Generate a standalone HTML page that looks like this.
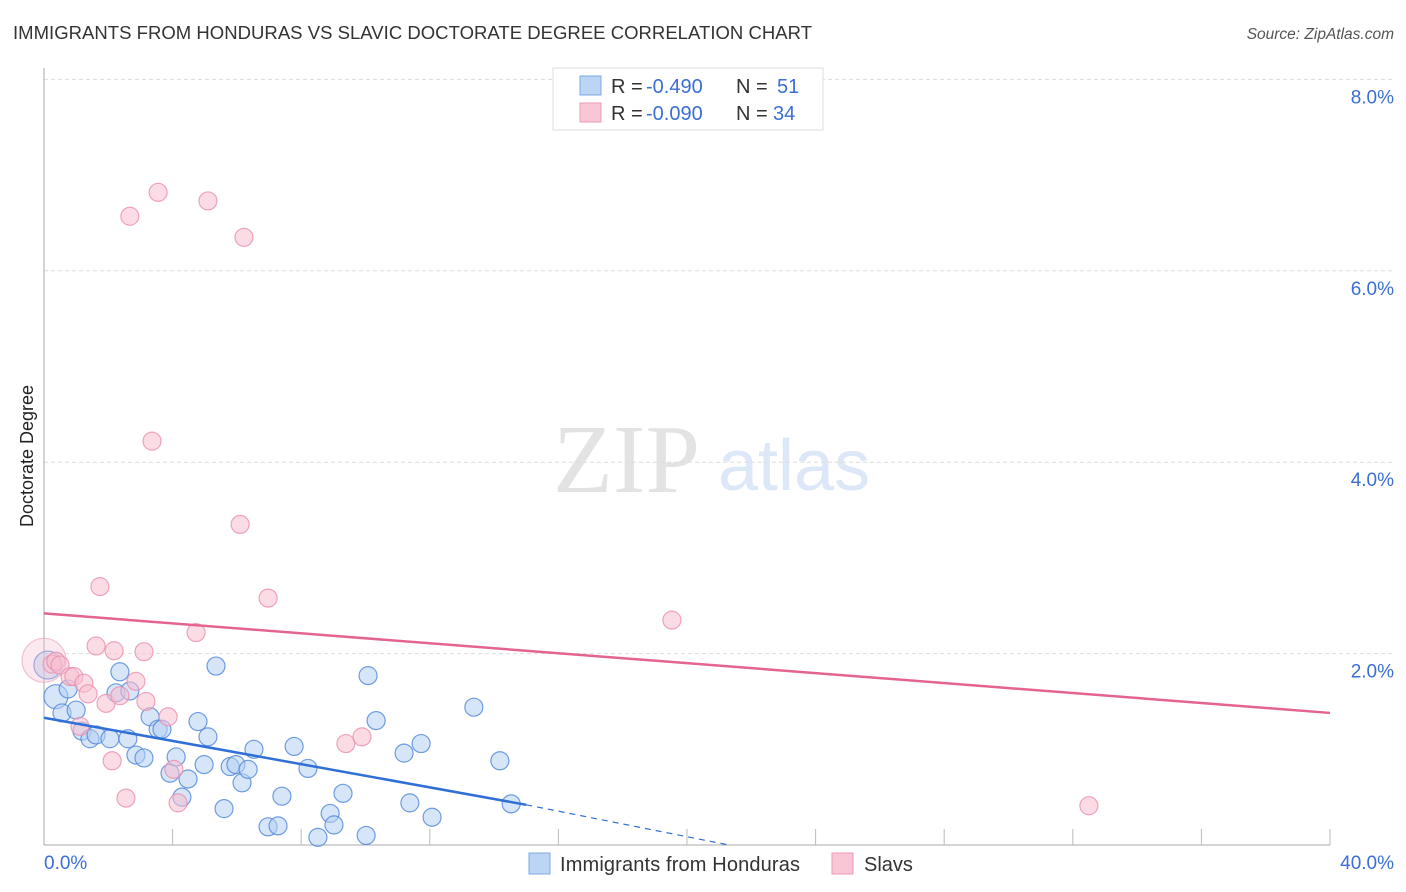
<!DOCTYPE html>
<html><head><meta charset="utf-8"><style>
body{margin:0;background:#fff;width:1406px;height:892px;overflow:hidden;font-family:"Liberation Sans",sans-serif}
svg{position:absolute;left:0;top:0}
</style></head><body>
<svg width="1406" height="892">
<text x="13" y="39" font-size="18.5" fill="#333" textLength="799">IMMIGRANTS FROM HONDURAS VS SLAVIC DOCTORATE DEGREE CORRELATION CHART</text>
<text x="1394" y="39" font-size="15.5" fill="#555" font-style="italic" text-anchor="end">Source: ZipAtlas.com</text>
<text x="553" y="492" font-size="98" fill="#e3e3e3" font-family="Liberation Serif,serif">ZIP</text>
<text x="718" y="490" font-size="72" fill="#dce8f7">atlas</text>
<g id="grid"></g>
<g id="axes"></g>
<g id="pts"></g>
<g id="trend"></g>
<text transform="translate(33,456) rotate(-90)" font-size="18" fill="#222" text-anchor="middle">Doctorate Degree</text>
<text x="44" y="869" font-size="19" fill="#3b6fd4">0.0%</text>
<text x="1394" y="869" font-size="19" fill="#3b6fd4" text-anchor="end">40.0%</text>
<g>
<rect x="553" y="68" width="270" height="62" fill="#fff" stroke="#ddd"/>
<rect x="580" y="76" width="21" height="19" fill="#bcd5f5" stroke="#7ea9e6"/>
<text x="611" y="93" font-size="20" fill="#333">R =</text>
<text x="646" y="93" font-size="20" fill="#3b6fd4">-0.490</text>
<text x="736" y="93" font-size="20" fill="#333">N =</text>
<text x="777" y="93" font-size="20" fill="#3b6fd4">51</text>
<rect x="580" y="103" width="21" height="19" fill="#f9c6d6" stroke="#ee9ab5"/>
<text x="611" y="120" font-size="20" fill="#333">R =</text>
<text x="646" y="120" font-size="20" fill="#3b6fd4">-0.090</text>
<text x="736" y="120" font-size="20" fill="#333">N =</text>
<text x="773" y="120" font-size="20" fill="#3b6fd4">34</text>
</g>
<g>
<rect x="529" y="853" width="21" height="21" fill="#bcd5f5" stroke="#7ea9e6"/>
<text x="560" y="871" font-size="20" fill="#333" textLength="240">Immigrants from Honduras</text>
<rect x="832" y="853" width="21" height="21" fill="#f9c6d6" stroke="#ee9ab5"/>
<text x="864" y="871" font-size="20" fill="#333">Slavs</text>
</g>
</svg>
<script>
const yTicks=[2,4,6,8];
const xTicks=[4,8,12,16,20,24,28,32,36,40];
const blueX=[0.37,0.12,0.75,0.56,1.0,1.18,1.43,1.62,2.05,2.36,2.24,2.67,2.61,2.86,3.11,3.30,3.55,3.67,3.92,4.11,4.29,4.48,4.79,4.98,5.10,5.35,5.60,5.79,5.97,6.16,6.35,6.53,6.97,7.28,7.40,7.78,8.21,8.52,8.90,9.02,9.30,10.02,10.08,10.33,11.20,11.38,11.73,12.07,13.37,14.18,14.53];
const blueY=[1.55,1.88,1.63,1.38,1.41,1.19,1.11,1.15,1.11,1.81,1.59,1.61,1.11,0.94,0.91,1.34,1.21,1.21,0.75,0.92,0.50,0.69,1.29,0.84,1.13,1.87,0.38,0.82,0.84,0.65,0.79,1.00,0.19,0.20,0.51,1.03,0.80,0.08,0.33,0.21,0.54,0.10,1.77,1.30,0.96,0.44,1.06,0.29,1.44,0.88,0.43];
const pinkX=[0,0.25,0.37,0.50,0.81,0.93,1.24,1.37,1.12,1.62,1.74,1.93,2.12,2.18,2.36,2.55,2.67,2.86,3.11,3.17,3.36,3.55,3.86,4.04,4.17,4.73,5.10,6.10,6.22,6.97,9.39,9.89,19.53,32.50];
const pinkY=[1.93,1.89,1.92,1.88,1.76,1.76,1.69,1.58,1.24,2.08,2.70,1.48,0.88,2.03,1.56,0.49,6.57,1.71,2.02,1.50,4.22,6.82,1.34,0.79,0.44,2.22,6.73,3.35,6.35,2.58,1.06,1.13,2.35,0.41];
const blueTrend=[1.33,0.42,15.0,21.3];
const pinkTrend=[2.42,1.38];
const X=v=>44+v*32.15, Y=v=>845-v*95.7;
const NS='http://www.w3.org/2000/svg';
function mk(p,t,a){const e=document.createElementNS(NS,t);for(const k in a)e.setAttribute(k,a[k]);p.appendChild(e);return e;}
const grid=document.getElementById('grid'),axes=document.getElementById('axes'),pts=document.getElementById('pts'),tr=document.getElementById('trend');
yTicks.forEach(t=>{
 const l=mk(grid,'line',{x1:44,x2:1394,y1:Y(t),y2:Y(t),stroke:'#ddd','stroke-dasharray':'4,3'});
 
 
 const tx=mk(grid,'text',{x:1394,y:Y(t)+24,'font-size':19,fill:'#3b6fd4','text-anchor':'end'});tx.textContent=t.toFixed(1)+'%';
 
 
});
const ya=mk(axes,'line',{x1:44,x2:44,y1:68,y2:845,stroke:'#aaa'});


const xa=mk(axes,'line',{x1:44,x2:1330,y1:845,y2:845,stroke:'#aaa'});


xTicks.forEach(t=>{const l=mk(axes,'line',{x1:X(t),x2:X(t),y1:829,y2:845,stroke:'#bbb'});
 
 });
function dots(xs,ys,fill,stroke,name,big){
 xs.forEach((x,i)=>{const r=big[i]||9;
  const c=mk(pts,'circle',{cx:X(x),cy:Y(ys[i]),r:r,fill:fill,'fill-opacity':r>15?0.35:0.55,stroke:stroke,'stroke-width':1.2,'stroke-opacity':r>15?0.5:0.8});
  
  });
}
dots(blueX,blueY,'#b4cff2','#4f86d8','honduras-point',{0:12,1:14});
dots(pinkX,pinkY,'#f7bfd0','#ea8eae','slavs-point',{0:22});
let l=mk(tr,'line',{x1:X(0),y1:Y(blueTrend[0]),x2:X(blueTrend[2]),y2:Y(blueTrend[1]),stroke:'#2f6fd6','stroke-width':2.5});


l=mk(tr,'line',{x1:X(blueTrend[2]),y1:Y(blueTrend[1]),x2:X(blueTrend[3]),y2:Y(0),stroke:'#2f6fd6','stroke-width':1.2,'stroke-dasharray':'6,5'});


l=mk(tr,'line',{x1:X(0),y1:Y(pinkTrend[0]),x2:X(40),y2:Y(pinkTrend[1]),stroke:'#e4648f','stroke-width':2.5});


</script>
</body></html>
